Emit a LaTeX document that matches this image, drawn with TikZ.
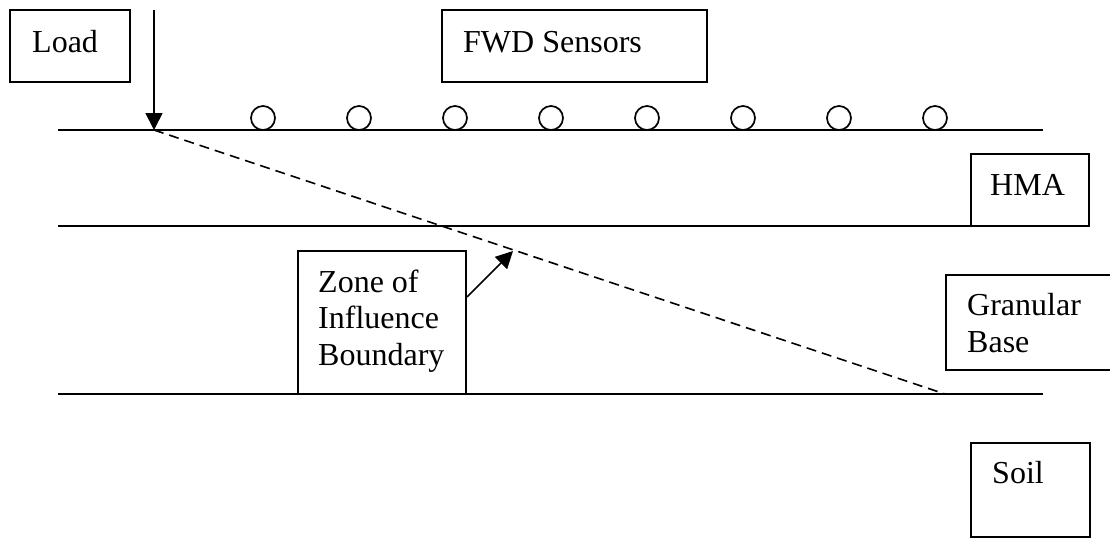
\documentclass[tikz,border=0pt]{standalone}
\usepackage{fontspec}
\setmainfont{Liberation Serif}
\usetikzlibrary{arrows.meta}
\begin{document}
\begin{tikzpicture}[x=1pt,y=-1pt,
  box/.style={draw,line width=1.8pt,inner sep=0pt},
  lbl/.style={anchor=base west,inner sep=0pt,font=\fontsize{32}{36}\selectfont},
  layer/.style={line width=2pt},
  sensor/.style={draw,circle,line width=1.7pt,minimum size=24pt,inner sep=0pt},
  zone/.style={line width=1.6pt,dash pattern=on 10pt off 6pt},
  pointer/.style={line width=1.7pt,-{Triangle[length=17pt,width=17pt]}}]
\useasboundingbox (0,0) rectangle (1110,538);
\clip (0,0) rectangle (1110,538);
% pavement layer interfaces
\coordinate (s0) at (58,130);  \coordinate (s1) at (1043,130);
\coordinate (h0) at (58,226);  \coordinate (h1) at (1043,226);
\coordinate (b0) at (58,394);  \coordinate (b1) at (1043,394);
\draw[layer] (s0) -- (s1);
\draw[layer] (h0) -- (h1);
\draw[layer] (b0) -- (b1);
% label boxes
\draw[box] (10,10) rectangle (130,82);
\node[lbl] (load) at (32,52) {Load};
\draw[box] (442,10) rectangle (707,82);
\node[lbl] (fwd) at (463,52) {FWD Sensors};
\draw[box,fill=white] (971,154) rectangle (1089,226);
\node[lbl] (hma) at (990,195) {HMA};
\draw[box] (946,275) rectangle (1120,370);
\node[lbl] (gran) at (967,315) {Granular};
\node[lbl] (base) at (967,352) {Base};
\draw[box] (971,443) rectangle (1090,537);
\node[lbl] (soil) at (992,483) {Soil};
\draw[box,fill=white] (298,251) rectangle (466,394);
\node[lbl] (z1) at (318,292) {Zone of};
\node[lbl] (z2) at (318,328) {Influence};
\node[lbl] (z3) at (318,365) {Boundary};
% load point and zone of influence boundary
\coordinate (lp) at (154,130);
\coordinate (ztop) at (154,10);
\coordinate (zend) at (945,394);
\draw[zone] (lp) -- (zend);
\draw[pointer] (ztop) -- (lp);
% sensors
\foreach \i in {0,...,7}
  \node[sensor] (c\i) at (263+96*\i,118) {};
% pointer to the boundary
\coordinate (zs) at (467,297);
\coordinate (zt) at (513,251);
\draw[pointer] (zs) -- (zt);
\end{tikzpicture}
\end{document}
